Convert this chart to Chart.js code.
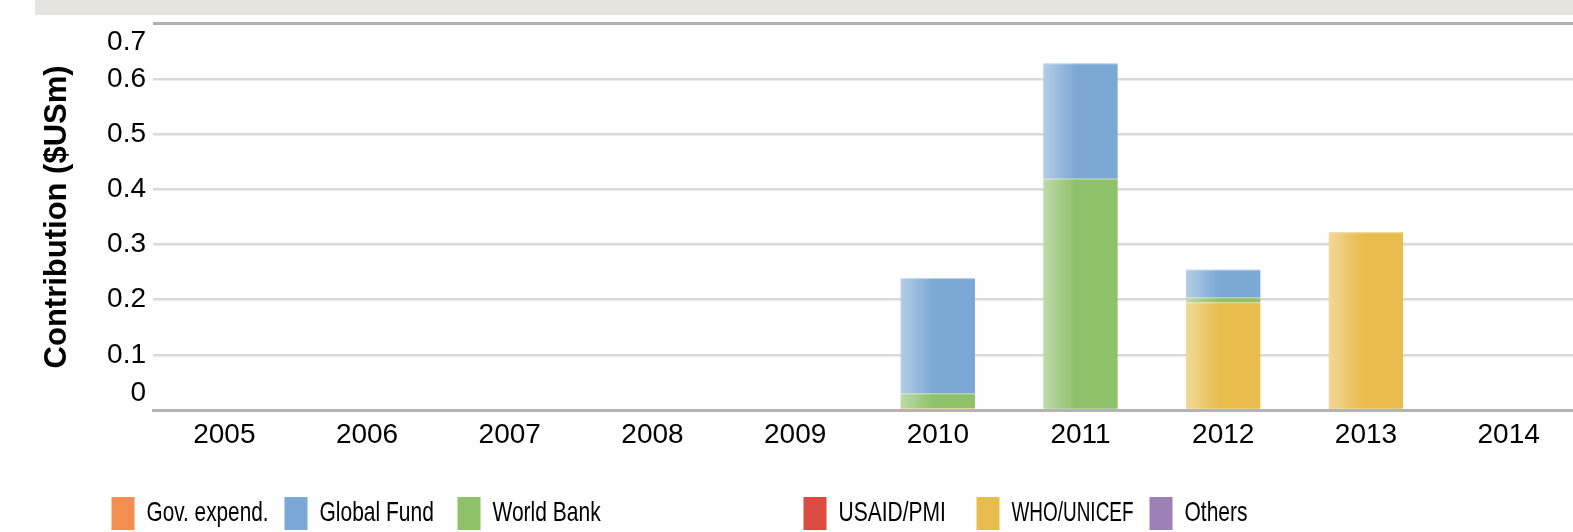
<!DOCTYPE html>
<html>
<head>
<meta charset="utf-8">
<script src="https://cdn.jsdelivr.net/npm/chart.js@4.4.1/dist/chart.umd.min.js"></script>
<style>
    html, body { margin: 0; padding: 0; background: #fff; overflow: hidden; }
    #wrap { position: relative; width: 1580px; height: 532px; }
</style>
</head>
<body>
<div id="wrap"><canvas id="chartFunding"></canvas></div>
<script>
// Datos (US$ millones)
const years = ['2005', '2006', '2007', '2008', '2009', '2010', '2011', '2012', '2013', '2014'];
const govExpend  = [0, 0, 0, 0, 0, 0, 0, 0, 0, 0];
const globalFund = [0, 0, 0, 0, 0, 0.209, 0.209, 0.050, 0, 0];
const worldBank  = [0, 0, 0, 0, 0, 0.027, 0.419, 0.009, 0, 0];
const usaidPmi   = [0, 0, 0, 0, 0, 0, 0, 0, 0, 0];
const whoUnicef  = [0, 0, 0, 0, 0, 0.003, 0, 0.195, 0.322, 0];
const others     = [0, 0, 0, 0, 0, 0, 0, 0, 0, 0];
const yTicks = [0, 0.1, 0.2, 0.3, 0.4, 0.5, 0.6, 0.7];

const seriesLabels = ['Gov. expend.', 'Global Fund', 'World Bank', 'USAID/PMI', 'WHO/UNICEF', 'Others'];
const seriesData = [govExpend, globalFund, worldBank, usaidPmi, whoUnicef, others];
const seriesColors = ['#f28e4f', '#7ba8d4', '#8fc06a', '#db4b3f', '#e8bd4e', '#9e80b8'];
// orden de apilado (abajo -> arriba)
const stackOrder = [1, 4, 2, 3, 0, 5];

const FONT = '"Liberation Sans", Arial, Helvetica, sans-serif';
Chart.defaults.font.family = FONT;
Chart.defaults.font.size = 28;
Chart.defaults.color = '#000';

const fmt = v => v === 0 ? '0' : Number(v).toFixed(1);

// franja gris superior
const bandPlugin = {
    id: 'band',
    beforeDraw(chart) {
        const ctx = chart.ctx;
        ctx.save();
        ctx.fillStyle = '#e5e4df';
        ctx.fillRect(35, 0, chart.width - 35, 15);
        ctx.restore();
    }
};

// brillo a la izquierda de cada barra
const shinePlugin = {
    id: 'shine',
    afterDatasetsDraw(chart) {
        const ctx = chart.ctx;
        ctx.save();
        chart.data.datasets.forEach((ds, i) => {
            const meta = chart.getDatasetMeta(i);
            if (meta.hidden) return;
            meta.data.forEach(bar => {
                const { x, y, base, width } = bar.getProps(['x', 'y', 'base', 'width'], true);
                if (Math.abs(base - y) < 0.5) return;
                const l = x - width / 2;
                const g = ctx.createLinearGradient(l, 0, l + width, 0);
                g.addColorStop(0, 'rgba(255,255,255,0.42)');
                g.addColorStop(0.45, 'rgba(255,255,255,0)');
                g.addColorStop(1, 'rgba(255,255,255,0)');
                ctx.fillStyle = g;
                ctx.fillRect(l, Math.min(y, base), width, Math.abs(base - y));
                // filo claro arriba
                ctx.fillStyle = 'rgba(255,255,255,0.35)';
                ctx.fillRect(l, Math.min(y, base), width, 1);
            });
        });
        ctx.restore();
    }
};

// etiquetas extremas del eje Y desplazadas hacia dentro
const yEndLabels = {
    id: 'yEndLabels',
    afterDraw(chart) {
        const s = chart.scales.y;
        const ctx = chart.ctx;
        ctx.save();
        ctx.font = '28px ' + FONT;
        ctx.fillStyle = '#000';
        ctx.textAlign = 'right';
        ctx.textBaseline = 'middle';
        const lo = yTicks[0], hi = yTicks[yTicks.length - 1];
        ctx.fillText(fmt(lo), s.right - 7, s.getPixelForValue(lo) - 17);
        ctx.fillText(fmt(hi), s.right - 7, s.getPixelForValue(hi) + 18);
        ctx.restore();
    }
};

// leyenda de ancho fijo
const legendPlugin = {
    id: 'fixedLegend',
    afterDraw(chart) {
        const ctx = chart.ctx;
        ctx.save();
        chart.data.datasets.forEach((ds, i) => {
            const slot = i < 3 ? i : i + 1;
            const x = 111.5 + slot * 173;
            ctx.fillStyle = ds.backgroundColor;
            ctx.fillRect(x, 497, 23, 33);
            ctx.save();
            ctx.translate(x + 35, 521);
            ctx.scale(0.75, 1);
            ctx.fillStyle = '#000';
            ctx.font = '28px ' + FONT;
            ctx.textBaseline = 'alphabetic';
            ctx.fillText(ds.label, 0, 0, 122 / 0.75);
            ctx.restore();
        });
        ctx.restore();
    }
};

new Chart(document.getElementById('chartFunding'), {
    type: 'bar',
    data: {
        labels: years,
        datasets: seriesLabels.map((label, i) => ({
            label: label,
            data: seriesData[i],
            backgroundColor: seriesColors[i],
            order: stackOrder[i],
            borderWidth: 0,
            barPercentage: 0.52,
            categoryPercentage: 1
        }))
    },
    options: {
        responsive: true,
        maintainAspectRatio: false,
        animation: false,
        layout: { padding: { top: 21, left: 0, right: 0, bottom: 0 } },
        plugins: {
            legend: { display: false },
            tooltip: { enabled: false }
        },
        scales: {
            x: {
                stacked: true,
                grid: { display: false, drawTicks: false },
                border: { display: true, color: '#b3b3b3', width: 3 },
                ticks: { padding: 8 },
                afterFit: s => { s.height = 122; }
            },
            y: {
                stacked: true,
                min: 0,
                max: 0.7,
                afterBuildTicks: s => { s.ticks = yTicks.map(v => ({ value: v })); },
                afterFit: s => { s.width = 153; },
                border: { display: false },
                grid: {
                    drawTicks: false,
                    color: c => c.tick.value === 0.7 ? '#b0b0b0' : (c.tick.value === 0 ? 'rgba(0,0,0,0)' : '#d9d9d9'),
                    lineWidth: c => c.tick.value === 0.7 ? 3 : 2.5
                },
                ticks: {
                    padding: 7,
                    callback: v => fmt(v),
                    color: c => (c.tick.value === 0 || c.tick.value === 0.7) ? 'rgba(0,0,0,0)' : '#000'
                },
                title: {
                    display: true,
                    text: 'Contribution ($USm)',
                    font: { size: 31, weight: 'bold' },
                    padding: { top: 39, bottom: 0 }
                }
            }
        }
    },
    plugins: [bandPlugin, shinePlugin, yEndLabels, legendPlugin]
});
</script>
</body>
</html>
